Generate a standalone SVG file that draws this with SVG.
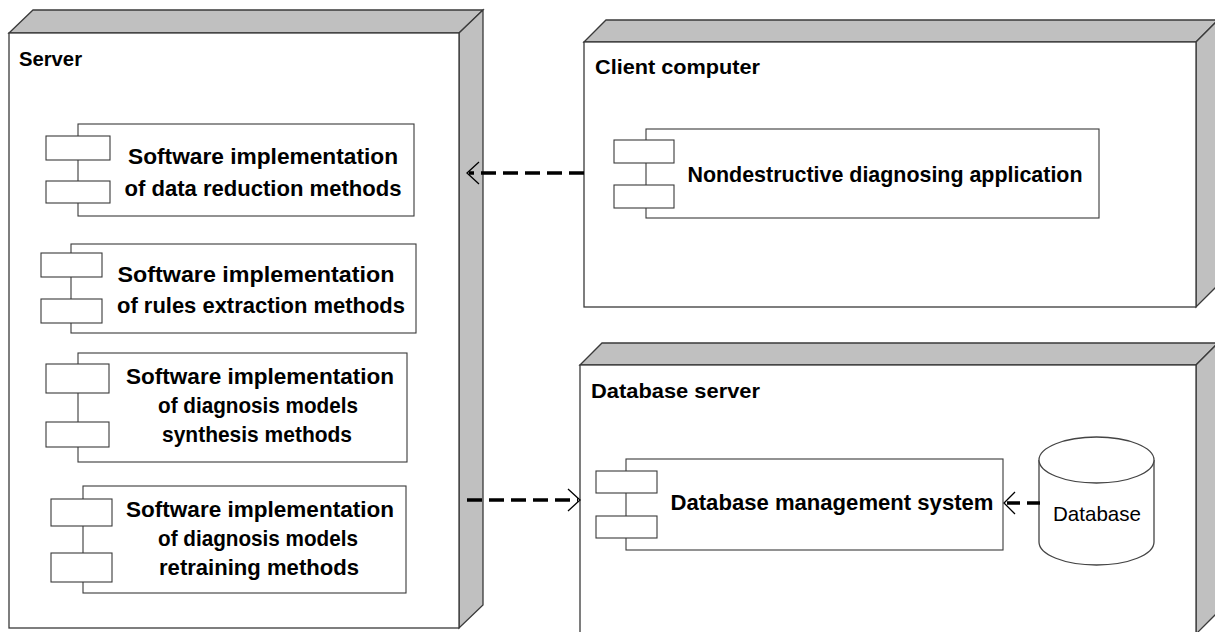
<svg xmlns="http://www.w3.org/2000/svg" width="1215" height="632" viewBox="0 0 1215 632">
<style>
.face{fill:#c0c0c0;stroke:#3a3a3a;stroke-width:1.3;stroke-linejoin:miter}
.front{fill:#ffffff;stroke:#3a3a3a;stroke-width:1.3}
.comp{fill:#ffffff;stroke:#3a3a3a;stroke-width:1.1}
.lbl{font-family:"Liberation Sans",Arial,sans-serif;font-weight:bold;font-size:21px;fill:#000}
.ctext{font-family:"Liberation Sans",Arial,sans-serif;font-weight:bold;font-size:22px;fill:#000;text-anchor:middle}
.dbtext{font-family:"Liberation Sans",Arial,sans-serif;font-size:21px;fill:#000;text-anchor:middle}
.dash{fill:none;stroke:#000;stroke-width:3.5;stroke-dasharray:15 7}
.head{fill:none;stroke:#000;stroke-width:1.3}
</style>
<rect width="1215" height="632" fill="#ffffff"/>

<g id="node-server">
  <polygon class="face" points="9,33 33,10 483,10 459,33"/>
  <polygon class="face" points="459,33 483,10 483,605 459,628"/>
  <rect class="front" x="9" y="33" width="450" height="595"/>
  <text class="lbl" x="19" y="66" textLength="63" lengthAdjust="spacingAndGlyphs">Server</text>
</g>

<g id="node-client">
  <polygon class="face" points="584,42 606,20 1218,20 1196,42"/>
  <polygon class="face" points="1196,42 1218,20 1218,285 1196,307"/>
  <rect class="front" x="584" y="42" width="612" height="265"/>
  <text class="lbl" x="595" y="74" textLength="165" lengthAdjust="spacingAndGlyphs">Client computer</text>
</g>

<g id="node-dbserver">
  <polygon class="face" points="580,365 602,343 1218,343 1196,365"/>
  <polygon class="face" points="1196,365 1218,343 1218,612 1196,634"/>
  <rect class="front" x="580" y="365" width="616" height="280"/>
  <text class="lbl" x="591" y="398" textLength="169" lengthAdjust="spacingAndGlyphs">Database server</text>
</g>

<g id="comp-data-reduction">
  <rect class="comp" x="78" y="124" width="336" height="92"/>
  <rect class="comp" x="46" y="136" width="64" height="24"/>
  <rect class="comp" x="46" y="181" width="64" height="22"/>
  <text class="ctext" x="263" y="164" textLength="270" lengthAdjust="spacingAndGlyphs">Software implementation</text>
  <text class="ctext" x="263" y="196" textLength="277" lengthAdjust="spacingAndGlyphs">of data reduction methods</text>
</g>

<g id="comp-rules-extraction">
  <rect class="comp" x="71" y="244" width="345" height="89"/>
  <rect class="comp" x="41" y="253" width="61" height="24"/>
  <rect class="comp" x="41" y="299" width="61" height="24"/>
  <text class="ctext" x="256" y="282" textLength="277" lengthAdjust="spacingAndGlyphs">Software implementation</text>
  <text class="ctext" x="261" y="313" textLength="288" lengthAdjust="spacingAndGlyphs">of rules extraction methods</text>
</g>

<g id="comp-synthesis">
  <rect class="comp" x="78" y="353" width="329" height="109"/>
  <rect class="comp" x="46" y="364" width="63" height="29"/>
  <rect class="comp" x="46" y="422" width="63" height="25"/>
  <text class="ctext" x="260" y="384" textLength="268" lengthAdjust="spacingAndGlyphs">Software implementation</text>
  <text class="ctext" x="258" y="413" textLength="200" lengthAdjust="spacingAndGlyphs">of diagnosis models</text>
  <text class="ctext" x="257" y="442" textLength="190" lengthAdjust="spacingAndGlyphs">synthesis methods</text>
</g>

<g id="comp-retraining">
  <rect class="comp" x="83" y="486" width="323" height="107"/>
  <rect class="comp" x="51" y="499" width="61" height="27"/>
  <rect class="comp" x="51" y="553" width="61" height="29"/>
  <text class="ctext" x="260" y="517" textLength="268" lengthAdjust="spacingAndGlyphs">Software implementation</text>
  <text class="ctext" x="258" y="546" textLength="200" lengthAdjust="spacingAndGlyphs">of diagnosis models</text>
  <text class="ctext" x="259" y="575" textLength="200" lengthAdjust="spacingAndGlyphs">retraining methods</text>
</g>

<g id="comp-nondestructive">
  <rect class="comp" x="646" y="129" width="453" height="89"/>
  <rect class="comp" x="614" y="140" width="60" height="23"/>
  <rect class="comp" x="614" y="185" width="60" height="23"/>
  <text class="ctext" x="885" y="182" textLength="395" lengthAdjust="spacingAndGlyphs">Nondestructive diagnosing application</text>
</g>

<g id="comp-dbms">
  <rect class="comp" x="626" y="459" width="377" height="91"/>
  <rect class="comp" x="596" y="471" width="61" height="22"/>
  <rect class="comp" x="596" y="516" width="61" height="22"/>
  <text class="ctext" x="832" y="510" textLength="323" lengthAdjust="spacingAndGlyphs">Database management system</text>
</g>

<g id="database">
  <path d="M1039,460 L1039,542 A57.5,23 0 0,0 1154,542 L1154,460" fill="#ffffff" stroke="#444" stroke-width="1.3"/>
  <ellipse cx="1096.5" cy="460" rx="57.5" ry="23" fill="#ffffff" stroke="#444" stroke-width="1.3"/>
  <text class="dbtext" x="1097" y="521" textLength="88" lengthAdjust="spacingAndGlyphs">Database</text>
</g>

<g id="connectors">
  <line class="dash" x1="584" y1="173" x2="469" y2="173"/>
  <polyline class="head" points="479,162 467,173 479,184"/>
  <line class="dash" x1="467" y1="500" x2="578" y2="500"/>
  <polyline class="head" points="568,489 580,500 568,511"/>
  <line class="dash" x1="1040" y1="503" x2="1006" y2="503" style="stroke-dasharray:13 7"/>
  <polyline class="head" points="1015,492 1004,503 1015,514"/>
</g>
</svg>
